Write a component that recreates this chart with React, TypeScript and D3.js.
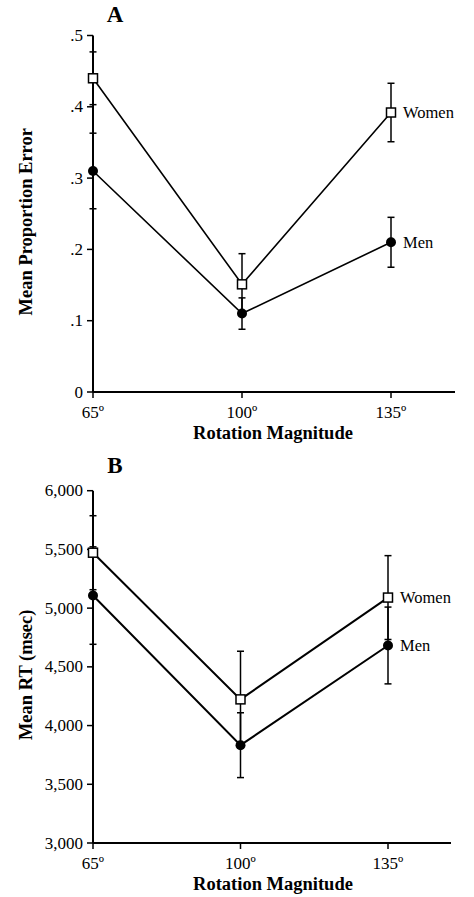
import React from "react";
import * as d3 from "d3";

const categories = ["65º", "100º", "135º"];
const seriesNames = ["Women", "Men"];

const errWomenA = [0.44, 0.151, 0.392];
const errWomenA_se = [0.037, 0.043, 0.041];
const errMenA = [0.31, 0.11, 0.21];
const errMenA_se = [0.053, 0.022, 0.035];
const ticksA = [0, 0.1, 0.2, 0.3, 0.4, 0.5];

const rtWomenB = [5472, 4223, 5090];
const rtWomenB_se = [315, 410, 357];
const rtMenB = [5107, 3833, 4682];
const rtMenB_se = [415, 276, 327];
const ticksB = [3000, 3500, 4000, 4500, 5000, 5500, 6000];

const FONT = "'Liberation Serif', 'Times New Roman', Times, serif";

type PanelProps = {
  letter: string;
  letterY: number;
  yLabel: string;
  top: number;
  bottom: number;
  yDomain: [number, number];
  ticks: number[];
  fmt: (v: number) => string;
  xPositions: [number, number];
  axisEnd: number;
  women: number[];
  womenSe: number[];
  men: number[];
  menSe: number[];
  lineW: number;
};

function Panel(p: PanelProps) {
  const x0 = 93;
  const x = d3.scalePoint<string>().domain(categories).range(p.xPositions);
  const y = d3.scaleLinear().domain(p.yDomain).range([p.bottom, p.top]);
  const line = d3
    .line<number>()
    .x((_, i) => x(categories[i]) as number)
    .y((d) => y(d));
  const cap = 3.5;
  const errBars = (vals: number[], se: number[], key: string) =>
    vals.map((v, i) => {
      const cx = x(categories[i]) as number;
      const y1 = y(v + se[i]);
      const y2 = y(v - se[i]);
      return (
        <g key={key + i} stroke="#000" strokeWidth={1.5}>
          <line x1={cx} x2={cx} y1={y1} y2={y2} />
          <line x1={cx - cap} x2={cx + cap} y1={y1} y2={y1} />
          <line x1={cx - cap} x2={cx + cap} y1={y2} y2={y2} />
        </g>
      );
    });
  const xLabelX = 273;
  const yMid = (p.top + p.bottom) / 2 + 8;
  const lastX = x(categories[2]) as number;
  return (
    <g style={{ fontFamily: FONT }}>
      <text x={115} y={p.letterY} fontSize={23} fontWeight="bold" textAnchor="middle">
        {p.letter}
      </text>
      {/* y axis */}
      <line x1={x0} x2={x0} y1={p.top} y2={p.bottom} stroke="#000" strokeWidth={2} />
      {p.ticks.map((t) => (
        <g key={"yt" + t}>
          <line x1={x0 - 6} x2={x0} y1={y(t)} y2={y(t)} stroke="#000" strokeWidth={1.5} />
          <text x={x0 - 10} y={y(t) + 5.5} fontSize={17} textAnchor="end">
            {p.fmt(t)}
          </text>
        </g>
      ))}
      <text
        transform={`translate(32,${yMid}) rotate(-90)`}
        fontSize={18.5}
        fontWeight="bold"
        textAnchor="middle"
      >
        {p.yLabel}
      </text>
      {/* x axis */}
      <line x1={x0} x2={p.axisEnd} y1={p.bottom} y2={p.bottom} stroke="#000" strokeWidth={2} />
      {categories.map((c) => (
        <g key={"xt" + c}>
          <line x1={x(c)} x2={x(c)} y1={p.bottom} y2={p.bottom + 6} stroke="#000" strokeWidth={1.5} />
          <text x={x(c)} y={p.bottom + 26} fontSize={17} textAnchor="middle">
            {c}
          </text>
        </g>
      ))}
      <text x={xLabelX} y={p.bottom + 47} fontSize={18.5} fontWeight="bold" textAnchor="middle">
        Rotation Magnitude
      </text>
      {/* error bars */}
      {errBars(p.women, p.womenSe, "w")}
      {errBars(p.men, p.menSe, "m")}
      {/* lines */}
      <path d={line(p.women) || ""} fill="none" stroke="#000" strokeWidth={p.lineW} />
      <path d={line(p.men) || ""} fill="none" stroke="#000" strokeWidth={p.lineW} />
      {/* markers */}
      {p.men.map((v, i) => (
        <circle key={"mc" + i} cx={x(categories[i])} cy={y(v)} r={5} fill="#000" />
      ))}
      {p.women.map((v, i) => (
        <rect
          key={"wr" + i}
          x={(x(categories[i]) as number) - 4.5}
          y={y(v) - 4.5}
          width={9}
          height={9}
          fill="#fff"
          stroke="#000"
          strokeWidth={1.5}
        />
      ))}
      <text x={lastX + 12} y={y(p.women[2]) + 5.5} fontSize={16.5}>
        {seriesNames[0]}
      </text>
      <text x={lastX + 12} y={y(p.men[2]) + 5.5} fontSize={16.5}>
        {seriesNames[1]}
      </text>
    </g>
  );
}

export default function App() {
  const fmtA = (v: number) => (v === 0 ? "0" : d3.format(".1f")(v).replace(/^0/, ""));
  const fmtB = d3.format(",");
  return (
    <svg
      width={474}
      height={897}
      style={{ position: "absolute", left: 0, top: 0, background: "#fff" }}
    >
      <rect width={474} height={897} fill="#fff" />
      <Panel
        letter="A"
        letterY={22}
        yLabel="Mean Proportion Error"
        top={35.5}
        bottom={392}
        yDomain={[0, 0.5]}
        ticks={ticksA}
        fmt={fmtA}
        xPositions={[93, 391]}
        axisEnd={455}
        women={errWomenA}
        womenSe={errWomenA_se}
        men={errMenA}
        menSe={errMenA_se}
        lineW={1.6}
      />
      <Panel
        letter="B"
        letterY={473}
        yLabel="Mean RT (msec)"
        top={490.7}
        bottom={843}
        yDomain={[3000, 6000]}
        ticks={ticksB}
        fmt={fmtB}
        xPositions={[93, 388]}
        axisEnd={451}
        women={rtWomenB}
        womenSe={rtWomenB_se}
        men={rtMenB}
        menSe={rtMenB_se}
        lineW={2}
      />
    </svg>
  );
}
